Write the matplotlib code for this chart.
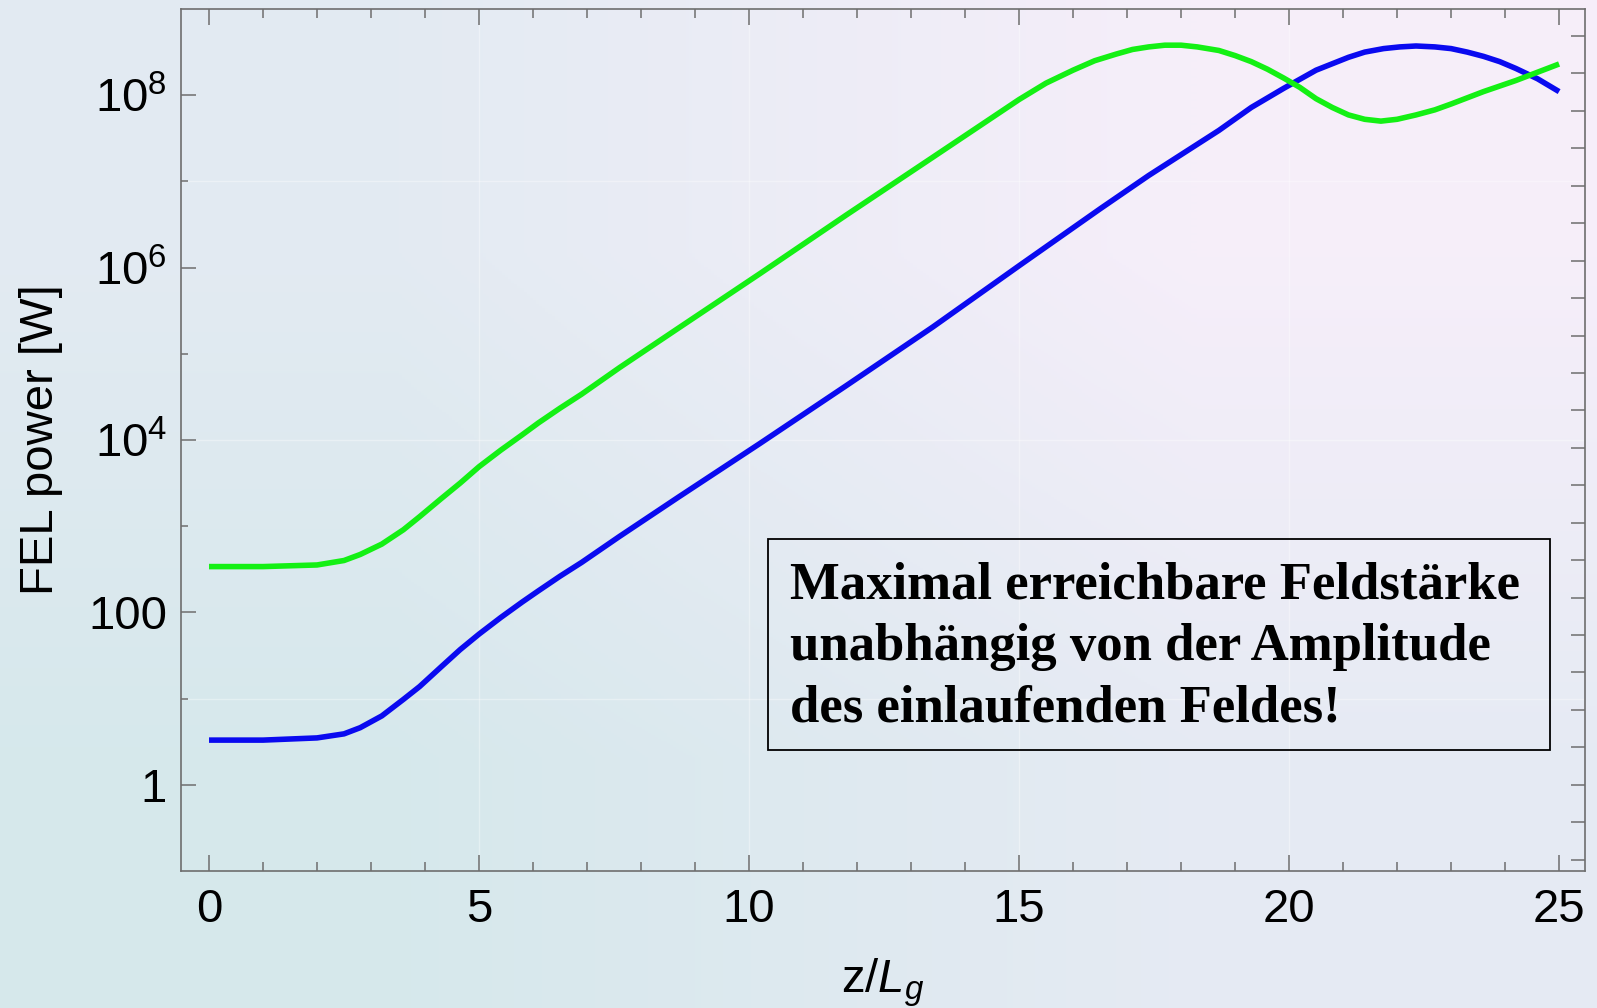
"""
FEL power growth along the undulator for two seed levels (log scale),
with an annotation box on a light gradient slide background.
"""

import numpy as np
import matplotlib.pyplot as plt
from matplotlib.patches import Rectangle

# settings
plt.rcParams['font.family'] = ['Liberation Sans', 'DejaVu Sans']
plt.rcParams['mathtext.fontset'] = 'custom'
plt.rcParams['mathtext.rm'] = 'Liberation Sans'
plt.rcParams['mathtext.it'] = 'Liberation Sans:italic'
plt.rcParams['mathtext.bf'] = 'Liberation Sans:bold'

# data (z in gain lengths, power in W)
z_low = [0.0, 1.0, 2.0, 2.5, 2.8, 3.2, 3.6, 3.9, 4.3, 4.65, 5.0, 5.4, 5.8,
         6.1, 6.5, 6.9, 7.6, 8.7, 10.2, 11.8, 13.4, 15.0, 16.5, 17.4, 18.0,
         18.7, 19.3, 19.9, 20.5, 21.1, 21.4, 21.75, 22.05, 22.35, 22.7,
         23.0, 23.3, 23.6, 23.9, 24.2, 24.6, 25.0]
p_low = [3.3, 3.3, 3.5, 3.9, 4.6, 6.3, 9.8, 1.38e1, 2.34e1, 3.7e1, 5.6e1,
         8.7e1, 1.32e2, 1.78e2, 2.63e2, 3.8e2, 7.6e2, 2.19e3, 9.1e3, 4.27e4,
         2.04e5, 1.05e6, 4.8e6, 1.17e7, 2.04e7, 3.9e7, 7.2e7, 1.2e8, 1.95e8,
         2.75e8, 3.16e8, 3.47e8, 3.63e8, 3.72e8, 3.63e8, 3.47e8, 3.16e8,
         2.82e8, 2.45e8, 2.04e8, 1.55e8, 1.1e8]

z_high = [0.0, 1.0, 2.0, 2.5, 2.8, 3.2, 3.6, 3.9, 4.3, 4.65, 5.0, 5.4, 5.8,
          6.1, 6.5, 6.9, 7.6, 8.7, 10.2, 11.8, 13.4, 15.0, 15.5, 16.0, 16.4,
          16.8, 17.1, 17.4, 17.7, 18.0, 18.3, 18.7, 19.0, 19.3, 19.6, 19.9,
          20.2, 20.5, 20.8, 21.1, 21.4, 21.7, 22.0, 22.35, 22.7, 23.0, 23.6,
          24.2, 25.0]
p_high = [3.4e2, 3.4e2, 3.55e2, 4.0e2, 4.7e2, 6.2e2, 9.1e2, 1.29e3, 2.09e3,
          3.16e3, 4.9e3, 7.6e3, 1.15e4, 1.58e4, 2.34e4, 3.4e4, 6.9e4, 2.0e5,
          8.5e5, 4.07e6, 1.9e7, 8.9e7, 1.38e8, 1.95e8, 2.51e8, 3.0e8, 3.39e8,
          3.63e8, 3.8e8, 3.8e8, 3.63e8, 3.3e8, 2.88e8, 2.45e8, 2.0e8, 1.58e8,
          1.23e8, 9.1e7, 7.2e7, 5.9e7, 5.25e7, 5.0e7, 5.25e7, 5.9e7, 6.76e7,
          7.9e7, 1.1e8, 1.48e8, 2.3e8]

y_ticks = [1, 1e2, 1e4, 1e6, 1e8]
y_tick_labels = ['1', '100', r'$10^{4}$', r'$10^{6}$', r'$10^{8}$']
y_minor = [1e1, 1e3, 1e5, 1e7]
x_ticks = [0, 5, 10, 15, 20, 25]
note_lines = ["Maximal erreichbare Feldstärke",
              "unabhängig von der Amplitude",
              "des einlaufenden Feldes!"]

SPINE = '#6e6e6e'


def main():
    fig = plt.figure(figsize=(15.97, 10.08), dpi=100)

    # slide background gradient
    bg = fig.add_axes([0, 0, 1, 1], zorder=-10)
    grad = np.array([[[0.84, 0.91, 0.925], [0.90, 0.92, 0.955]],
                     [[0.89, 0.92, 0.95], [0.965, 0.935, 0.98]]])
    bg.imshow(grad, origin='lower', extent=[0, 1, 0, 1], aspect='auto',
              interpolation='bilinear')
    bg.axis('off')

    ax = fig.add_axes([0.1133, 0.1359, 0.8792, 0.8552])
    ax.set_facecolor('none')

    # faint grid
    for xg in [5, 10, 15, 20]:
        ax.axvline(xg, color='white', lw=1.0, alpha=0.35, zorder=0)
    for yg in [1e1, 1e4, 1e7]:
        ax.axhline(yg, color='white', lw=1.0, alpha=0.35, zorder=0)

    # curves
    ax.plot(z_low, p_low, color='#0a0af0', lw=4.0, solid_capstyle='butt',
            solid_joinstyle='round', zorder=3)
    ax.plot(z_high, p_high, color='#14f014', lw=4.0, solid_capstyle='butt',
            solid_joinstyle='round', zorder=3)

    ax.set_yscale('log')
    ax.set_xlim(-0.52, 25.48)
    ax.set_ylim(0.1, 1e9)

    # ticks
    ax.set_xticks(x_ticks)
    ax.set_xticks(np.arange(0, 26, 1), minor=True)
    ax.set_yticks(y_ticks, y_tick_labels)
    ax.set_yticks(y_minor, minor=True)
    ax.yaxis.set_minor_formatter(plt.NullFormatter())
    ax.tick_params(axis='both', which='both', direction='in', color=SPINE,
                   width=1.1, labelsize=34)
    ax.tick_params(axis='x', which='major', length=11.5, pad=12, top=True)
    ax.tick_params(axis='x', which='minor', length=6.5, top=True)
    ax.tick_params(axis='y', which='major', length=11, pad=10)
    ax.tick_params(axis='y', which='minor', length=5)
    for sp in ax.spines.values():
        sp.set_color(SPINE)
        sp.set_linewidth(1.2)

    # right axis: ticks at e-folds, no labels
    ax2 = ax.twinx()
    ax2.set_yscale('log')
    ax2.set_ylim(ax.get_ylim())
    ax2.set_yticks([np.e ** k for k in range(-2, 21)])
    ax2.yaxis.set_minor_locator(plt.NullLocator())
    ax2.tick_params(axis='y', direction='in', length=10, width=1.1,
                    color=SPINE, labelright=False)
    for sp in ax2.spines.values():
        sp.set_visible(False)

    ax.set_xlabel(r'z/$L_g$', fontsize=34, labelpad=18)
    ax.set_ylabel('FEL power [W]', fontsize=34, labelpad=18)

    # annotation box
    fig.patches.append(Rectangle((0.481, 0.256), 0.4896, 0.209,
                                 transform=fig.transFigure, fill=False,
                                 edgecolor='black', lw=1.3, zorder=5))
    for line, yb in zip(note_lines, [0.4067, 0.3452, 0.2847]):
        fig.text(0.4947, yb, line, fontsize=38, family='Liberation Serif',
                 weight='bold', ha='left', va='baseline', zorder=6)

    fig.savefig('out.png', dpi=100)


if __name__ == "__main__":
    main()
